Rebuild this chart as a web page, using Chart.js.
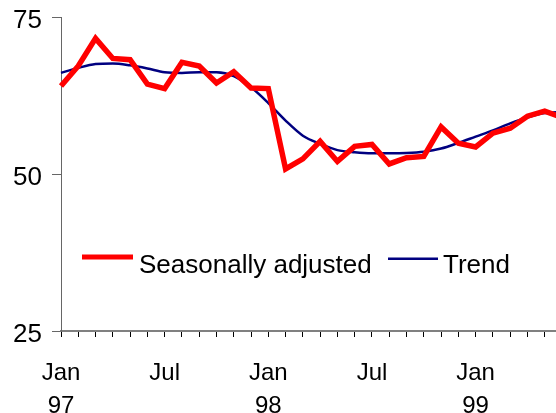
<!DOCTYPE html>
<html>
<head>
<meta charset="utf-8">
<script src="https://cdn.jsdelivr.net/npm/chart.js@4.4.1/dist/chart.umd.min.js"></script>
<style>
  html, body { margin: 0; padding: 0; background: #fff; overflow: hidden; }
  #wrap { width: 556px; height: 413px; overflow: hidden; position: relative; }
  #grafica { display: block; }
</style>
</head>
<body>
<div id="wrap"><canvas id="grafica" width="563" height="413" style="width:563px;height:413px"></canvas></div>
<script>
// meses (Jan 97 - Jun 99)
const meses = ['Jan 97','Feb 97','Mar 97','Apr 97','May 97','Jun 97','Jul 97','Aug 97','Sep 97','Oct 97','Nov 97','Dec 97',
               'Jan 98','Feb 98','Mar 98','Apr 98','May 98','Jun 98','Jul 98','Aug 98','Sep 98','Oct 98','Nov 98','Dec 98',
               'Jan 99','Feb 99','Mar 99','Apr 99','May 99','Jun 99'];

const ajustado = [64.0, 67.2, 71.6, 68.4, 68.2, 64.3, 63.6, 67.8, 67.2, 64.5, 66.3, 63.7,
                  63.6, 50.8, 52.4, 55.2, 52.0, 54.4, 54.7, 51.6, 52.6, 52.8, 57.5, 54.9,
                  54.3, 56.5, 57.3, 59.2, 60.0, 59.0];

const tendencia = [66.1, 66.9, 67.5, 67.6, 67.3, 66.8, 66.2, 66.1, 66.2, 66.2, 65.6, 63.8,
                   61.3, 58.5, 56.1, 54.8, 53.8, 53.45, 53.3, 53.3, 53.35, 53.55, 54.05, 54.95,
                   55.95, 56.95, 58.05, 59.0, 59.7, 59.9];

const ticksY = [25, 50, 75];

// leyenda dentro del area, dibujada a mano
const leyendaPlugin = {
    id: 'leyenda',
    afterDraw(chart) {
        const ctx = chart.ctx;
        const ds = chart.data.datasets;
        ctx.save();
        ctx.font = '26px "Liberation Sans", Arial, sans-serif';
        ctx.textBaseline = 'alphabetic';
        // rojo
        ctx.fillStyle = ds[0].borderColor;
        ctx.fillRect(82, 254.5, 51, 5);
        ctx.fillStyle = '#000';
        ctx.fillText(ds[0].label, 139, 273);
        // azul
        ctx.fillStyle = ds[1].borderColor;
        ctx.fillRect(388, 257.5, 50, 2.5);
        ctx.fillStyle = '#000';
        ctx.fillText(ds[1].label, 443, 273);
        ctx.restore();
    }
};

new Chart(document.getElementById('grafica'), {
    type: 'line',
    data: {
        labels: meses,
        datasets: [{
            label: 'Seasonally adjusted',
            data: ajustado,
            borderColor: '#ff0000',
            borderWidth: 5.5,
            pointRadius: 0,
            tension: 0,
            borderJoinStyle: 'miter'
        }, {
            label: 'Trend',
            data: tendencia,
            borderColor: '#000080',
            borderWidth: 2.5,
            pointRadius: 0,
            cubicInterpolationMode: 'monotone'
        }]
    },
    options: {
        responsive: false,
        animation: false,
        layout: { padding: { top: 17, right: 1, left: 0, bottom: 0 } },
        plugins: { legend: { display: false }, tooltip: { enabled: false } },
        scales: {
            x: {
                offset: false,
                afterFit: s => { s.height = 82; s.paddingLeft = 0; s.paddingRight = 0; },
                border: { display: true, color: '#808080', width: 2 },
                grid: { display: true, drawOnChartArea: false, drawTicks: true, tickLength: 6, color: '#000', lineWidth: 1 },
                ticks: {
                    autoSkip: false, maxRotation: 0, minRotation: 0, padding: 20,
                    color: '#000',
                    font: { family: '"Liberation Sans", Arial, sans-serif', size: 24, lineHeight: '33px' },
                    callback: function(v, i) {
                        const p = meses[i].split(' ');
                        if (p[0] === 'Jan') return [p[0], p[1]];
                        if (p[0] === 'Jul') return [p[0], ''];
                        return '';
                    }
                }
            },
            y: {
                min: 25, max: 75,
                afterFit: s => { s.width = 61; },
                afterBuildTicks: s => { s.ticks = ticksY.map(v => ({ value: v })); },
                border: { display: true, color: '#666', width: 1 },
                grid: { display: true, drawOnChartArea: false, drawTicks: true, tickLength: 9, color: '#666', lineWidth: 1 },
                ticks: {
                    padding: 10, color: '#000',
                    font: { family: '"Liberation Sans", Arial, sans-serif', size: 26, lineHeight: '7px' },
                    callback: v => ['', String(v)]
                }
            }
        }
    },
    plugins: [leyendaPlugin]
});
</script>
</body>
</html>
